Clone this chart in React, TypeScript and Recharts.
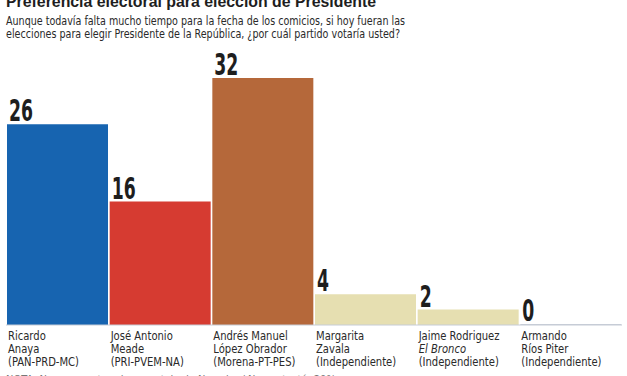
import { Bar, BarChart, Cell, LabelList, XAxis, YAxis } from "recharts";

const candidates = ["anaya", "meade", "amlo", "zavala", "bronco", "rios"];
const firstLines = ["Ricardo", "José Antonio", "Andrés Manuel", "Margarita", "Jaime Rodriguez", "Armando"];
const secondLines = ["Anaya", "Meade", "López Obrador", "Zavala", "El Bronco", "Ríos Piter"];
const parties = ["(PAN-PRD-MC)", "(PRI-PVEM-NA)", "(Morena-PT-PES)", "(Independiente)", "(Independiente)", "(Independiente)"];
const votes = [26, 16, 32, 4, 2, 0];
const barColors = ["#1764b0", "#d63b31", "#b5683a", "#e6dfb1", "#e6dfb1", "#c6ccd6"];

const TITLE = "Preferencia electoral para elección de Presidente";
const SUBTITLE = [
  "Aunque todavía falta mucho tiempo para la fecha de los comicios, si hoy fueran las",
  "elecciones para elegir Presidente de la República, ¿por cuál partido votaría usted?",
];
const NOTE = "NOTA: No se muestra el porcentaje de No sabe / No contestó: 20%";

const TEXT = "#2a2a2a";
const NARROW = "'Liberation Sans Narrow', 'DejaVu Sans Condensed', 'Liberation Sans', sans-serif";

const data = candidates.map((id, i) => ({
  id,
  votes: votes[i],
  idx: i,
}));

function CandidateTick(props: any) {
  const { x, y, payload } = props;
  const i = candidates.indexOf(payload.value);
  const left = x - (payload.offset ?? 51) + 2;
  return (
    <g transform={`translate(${left},${y}) scale(0.89,1)`}>
      <text x={0} y={7} fontSize={12.5} fill={TEXT} fontFamily={NARROW}>
        {firstLines[i]}
      </text>
      <text
        x={0}
        y={20}
        fontSize={12.5}
        fill={TEXT}
        fontFamily={NARROW}
        fontStyle={i === 4 ? "italic" : "normal"}
      >
        {secondLines[i]}
      </text>
      <text x={0} y={33} fontSize={12.5} fill={TEXT} fontFamily={NARROW}>
        {parties[i]}
      </text>
    </g>
  );
}

function ValueLabel(props: any) {
  const { x, y, value } = props;
  const s = String(value);
  return (
    <text
      x={x + 2}
      y={y - 3}
      fontSize={31}
      fontWeight="bold"
      fill="#1e1e1e"
      fontFamily={NARROW}
      textLength={12 * s.length}
      lengthAdjust="spacingAndGlyphs"
    >
      {s}
    </text>
  );
}

export default function App() {
  return (
    <div
      style={{
        position: "absolute",
        left: 0,
        top: 0,
        width: 627,
        height: 376,
        overflow: "hidden",
        background: "#fff",
      }}
    >
      <svg
        width={627}
        height={376}
        style={{ position: "absolute", left: 0, top: 0, pointerEvents: "none" }}
      >
        <text
          x={6}
          y={7}
          fontSize={17}
          fontWeight="bold"
          fill="#1e1e1e"
          fontFamily="'Liberation Sans', Arial, sans-serif"
          textLength={370}
          lengthAdjust="spacingAndGlyphs"
        >
          {TITLE}
        </text>
        <text x={6} y={25} fontSize={13} fill={TEXT} fontFamily={NARROW} textLength={399} lengthAdjust="spacingAndGlyphs">
          {SUBTITLE[0]}
        </text>
        <text x={6} y={38} fontSize={13} fill={TEXT} fontFamily={NARROW} textLength={394} lengthAdjust="spacingAndGlyphs">
          {SUBTITLE[1]}
        </text>
        <text x={6} y={383} fontSize={11} fill="#777" fontFamily={NARROW}>
          {NOTE}
        </text>
      </svg>
      <BarChart
        width={627}
        height={376}
        data={data}
        margin={{ top: 78, right: 5, bottom: 0, left: 6 }}
        barCategoryGap={1}
      >
        <YAxis hide domain={[0, 32]} />
        <XAxis
          dataKey="id"
          interval={0}
          height={51}
          axisLine={{ stroke: "#c6ccd6", strokeWidth: 1 }}
          tickLine={false}
          tick={<CandidateTick />}
        />
        <Bar dataKey="votes" isAnimationActive={false} minPointSize={1}>
          {data.map((d) => (
            <Cell key={d.id} fill={barColors[d.idx]} />
          ))}
          <LabelList dataKey="votes" content={<ValueLabel />} />
        </Bar>
      </BarChart>
    </div>
  );
}
